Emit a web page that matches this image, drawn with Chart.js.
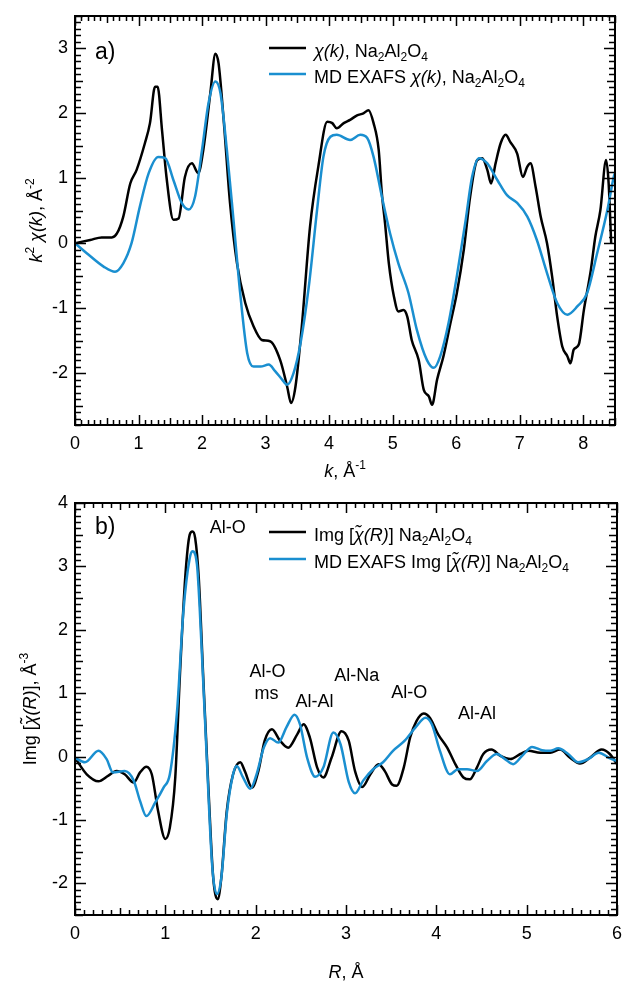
<!DOCTYPE html>
<html lang="en">
<head>
<meta charset="UTF-8">
<title>EXAFS Na2Al2O4</title>
<script src="https://cdn.jsdelivr.net/npm/chart.js"></script>
<style>
  body { margin: 0; background: #fff; }
  canvas { display: block; }
</style>
</head>
<body>
<canvas id="chiChart" width="624" height="492"></canvas>
<canvas id="imgChart" width="624" height="492"></canvas>
<script>
// a) k^2 chi(k), experiment (black) and MD EXAFS (blue)
const kExp = [0, 0.24, 0.42, 0.58, 0.66, 0.76, 0.87, 0.97, 1.10, 1.18, 1.26, 1.30, 1.37, 1.44, 1.55, 1.63, 1.73, 1.84, 1.94, 2.02,
  2.13, 2.21, 2.26, 2.34, 2.44, 2.55, 2.68, 2.81, 2.94, 3.07, 3.23, 3.34, 3.40, 3.47, 3.57, 3.70, 3.83, 3.97, 4.05, 4.12,
  4.23, 4.33, 4.44, 4.54, 4.62, 4.70, 4.78, 4.83, 4.88, 4.94, 5.02, 5.09, 5.17, 5.23, 5.30, 5.41, 5.49, 5.57, 5.62, 5.70,
  5.80, 5.91, 6.01, 6.12, 6.22, 6.33, 6.41, 6.49, 6.55, 6.62, 6.70, 6.78, 6.85, 6.96, 7.05, 7.12, 7.17, 7.25, 7.33, 7.43,
  7.51, 7.59, 7.67, 7.75, 7.80, 7.85, 7.93, 8.01, 8.12, 8.19, 8.27, 8.36, 8.40, 8.44];
const chiExp = [0, 0.05, 0.09, 0.09, 0.15, 0.41, 0.92, 1.13, 1.54, 1.85, 2.41, 2.41, 1.74, 1.02, 0.36, 0.38, 1.02, 1.23, 1.08, 1.44,
  2.31, 2.92, 2.77, 1.90, 0.62, -0.31, -0.92, -1.28, -1.49, -1.51, -1.80, -2.21, -2.46, -2.21, -1.28, 0.26, 1.18, 1.87, 1.85, 1.77,
  1.85, 1.90, 1.97, 2.00, 2.05, 1.85, 1.44, 0.77, 0.31, -0.31, -0.82, -1.05, -1.03, -1.13, -1.49, -1.80, -2.26, -2.36, -2.49, -2.10,
  -1.74, -1.23, -0.77, -0.10, 0.72, 1.28, 1.31, 1.13, 0.92, 1.23, 1.54, 1.67, 1.56, 1.38, 1.02, 1.18, 1.23, 0.87, 0.41, 0.00,
  -0.51, -1.13, -1.59, -1.74, -1.85, -1.64, -1.56, -1.03, -0.41, 0.10, 0.51, 1.28, 0.92, 0.00];
const kMd = [0, 0.18, 0.45, 0.63, 0.76, 0.89, 1.02, 1.16, 1.31, 1.42, 1.55, 1.68, 1.79, 1.89, 2.00, 2.10, 2.21, 2.29, 2.39, 2.49,
  2.60, 2.71, 2.81, 2.92, 3.05, 3.15, 3.26, 3.34, 3.44, 3.55, 3.68, 3.81, 3.91, 4.02, 4.12, 4.33, 4.49, 4.60, 4.70, 4.83,
  4.96, 5.09, 5.25, 5.38, 5.54, 5.65, 5.75, 5.88, 6.01, 6.15, 6.25, 6.36, 6.49, 6.65, 6.80, 6.96, 7.12, 7.27, 7.43, 7.59,
  7.75, 7.91, 8.06, 8.22, 8.38, 8.48, 8.50];
const chiMd = [0, -0.15, -0.36, -0.44, -0.31, 0.00, 0.56, 1.08, 1.33, 1.31, 0.97, 0.62, 0.52, 0.72, 1.44, 2.15, 2.49, 2.31, 1.44, 0.41,
  -0.77, -1.69, -1.90, -1.90, -1.87, -1.97, -2.10, -2.18, -2.00, -1.54, -0.67, 0.51, 1.33, 1.64, 1.67, 1.59, 1.67, 1.62, 1.33, 0.72,
  0.15, -0.31, -0.77, -1.33, -1.80, -1.92, -1.74, -1.23, -0.51, 0.36, 1.02, 1.31, 1.23, 0.97, 0.74, 0.62, 0.41, 0.05, -0.46, -0.92,
  -1.10, -0.97, -0.77, -0.15, 0.51, 1.02, 1.08];
const kTicks = [0, 1, 2, 3, 4, 5, 6, 7, 8];
const chiTicks = [-2, -1, 0, 1, 2, 3];

// b) Img of the Fourier transform
const rExp = [0, 0.13, 0.26, 0.37, 0.46, 0.55, 0.65, 0.72, 0.79, 0.85, 0.92, 1.00, 1.05, 1.11, 1.16, 1.22, 1.27, 1.30, 1.33, 1.37,
  1.42, 1.48, 1.53, 1.58, 1.62, 1.68, 1.75, 1.83, 1.88, 1.96, 2.03, 2.10, 2.18, 2.27, 2.36, 2.46, 2.53, 2.60, 2.68, 2.75,
  2.84, 2.95, 3.03, 3.10, 3.18, 3.27, 3.36, 3.43, 3.51, 3.56, 3.64, 3.71, 3.78, 3.86, 3.93, 4.02, 4.12, 4.21, 4.30, 4.37,
  4.45, 4.52, 4.61, 4.71, 4.82, 4.93, 5.02, 5.15, 5.26, 5.37, 5.48, 5.59, 5.70, 5.83, 5.92, 6.00];
const imgExp = [-0.02, -0.28, -0.39, -0.30, -0.23, -0.28, -0.41, -0.25, -0.16, -0.28, -0.86, -1.30, -1.12, -0.33, 1.24, 2.82, 3.50, 3.55, 3.45, 2.82,
  1.24, -0.59, -1.91, -2.25, -1.91, -0.86, -0.28, -0.09, -0.23, -0.49, -0.23, 0.25, 0.43, 0.25, 0.14, 0.35, 0.51, 0.30, -0.17, -0.33,
  -0.02, 0.40, 0.25, -0.23, -0.48, -0.28, -0.12, -0.23, -0.44, -0.46, -0.17, 0.30, 0.56, 0.68, 0.61, 0.35, 0.14, -0.12, -0.33, -0.36,
  -0.17, 0.04, 0.11, 0.01, -0.04, 0.04, 0.09, 0.06, 0.06, 0.11, -0.02, -0.11, -0.02, 0.11, 0.04, -0.12];
const rMd = [0, 0.11, 0.26, 0.35, 0.42, 0.55, 0.65, 0.72, 0.79, 0.89, 0.98, 1.05, 1.13, 1.20, 1.27, 1.30, 1.35, 1.40, 1.46, 1.52,
  1.57, 1.62, 1.68, 1.75, 1.79, 1.86, 1.94, 2.01, 2.09, 2.16, 2.25, 2.34, 2.43, 2.49, 2.57, 2.66, 2.75, 2.86, 2.94, 3.03,
  3.10, 3.19, 3.30, 3.41, 3.52, 3.65, 3.77, 3.88, 3.95, 4.04, 4.15, 4.24, 4.34, 4.45, 4.56, 4.67, 4.76, 4.85, 4.95, 5.06,
  5.17, 5.26, 5.35, 5.46, 5.57, 5.68, 5.80, 5.91, 6.00];
const imgMd = [-0.02, -0.09, 0.09, -0.04, -0.25, -0.23, -0.38, -0.70, -0.94, -0.72, -0.49, -0.28, 0.72, 2.29, 3.13, 3.24, 3.03, 1.77, -0.07, -1.75,
  -2.17, -1.91, -0.91, -0.28, -0.15, -0.33, -0.51, -0.28, 0.14, 0.29, 0.22, 0.46, 0.66, 0.51, -0.02, -0.32, -0.17, 0.38, 0.19, -0.40,
  -0.58, -0.38, -0.20, -0.09, 0.09, 0.25, 0.46, 0.61, 0.51, 0.09, -0.28, -0.20, -0.20, -0.23, -0.07, 0.04, -0.04, -0.12, 0.01, 0.15,
  0.10, 0.09, 0.13, 0.04, -0.09, -0.04, 0.06, -0.02, -0.07];
const rTicks = [0, 1, 2, 3, 4, 5, 6];
const imgTicks = [-2, -1, 0, 1, 2, 3, 4];
const peakNames = ['Al-O', 'Al-O', 'ms', 'Al-Al', 'Al-Na', 'Al-O', 'Al-Al'];

const FONT = '"Liberation Sans", Arial, sans-serif';
const BLUE = '#1a8fd0';
const NA2AL2O4 = [[' Na', ''], ['2', 'sub'], ['Al', ''], ['2', 'sub'], ['O', ''], ['4', 'sub']];

// text with italic / sup / sub pieces
function drawRich(ctx, parts, x, y, size, align) {
  const fontFor = s => (s === 'i' ? 'italic ' : '') + (s === 'sup' || s === 'sub' ? Math.round(size * 0.65) : size) + 'px ' + FONT;
  let w = 0;
  parts.forEach(([t, s]) => { ctx.font = fontFor(s); w += ctx.measureText(t).width; });
  let cx = align === 'center' ? x - w / 2 : x;
  ctx.textAlign = 'left';
  ctx.textBaseline = 'alphabetic';
  parts.forEach(([t, s]) => {
    ctx.font = fontFor(s);
    const dy = s === 'sup' ? -size * 0.42 : (s === 'sub' ? size * 0.22 : 0);
    ctx.fillText(t, cx, y + dy);
    cx += ctx.measureText(t).width;
  });
}

// frame, inward ticks, legend and texts
function decor(cfg) {
  return {
    id: 'decor',
    afterDraw(chart) {
      const { ctx, chartArea: a, scales: { x, y } } = chart;
      ctx.save();
      ctx.strokeStyle = '#000';
      ctx.lineWidth = 1.5;
      ctx.beginPath();
      for (let i = Math.ceil(x.min * 10 - 1e-6); i <= Math.floor(x.max * 10 + 1e-6); i++) {
        const px = Math.round(x.getPixelForValue(i / 10)) + 0.5;
        const len = i % 10 === 0 ? 10 : (i % 5 === 0 ? 7 : 5);
        ctx.moveTo(px, a.bottom); ctx.lineTo(px, a.bottom - len);
        ctx.moveTo(px, a.top); ctx.lineTo(px, a.top + len);
      }
      for (let i = Math.ceil(y.min * 10 - 1e-6); i <= Math.floor(y.max * 10 + 1e-6); i++) {
        const py = Math.round(y.getPixelForValue(i / 10)) + 0.5;
        const len = i % 10 === 0 ? 11 : (i % 5 === 0 ? 8 : 6);
        ctx.moveTo(a.left, py); ctx.lineTo(a.left + len, py);
        ctx.moveTo(a.right, py); ctx.lineTo(a.right - len, py);
      }
      ctx.stroke();
      ctx.lineWidth = 2;
      ctx.strokeRect(a.left, a.top, a.right - a.left, a.bottom - a.top);

      ctx.fillStyle = '#000';
      // panel label
      ctx.font = '23px ' + FONT;
      ctx.fillText(cfg.panel, 95, cfg.panelY);
      // legend
      ctx.lineWidth = 2.5;
      cfg.legend.forEach(item => {
        ctx.strokeStyle = item.color;
        ctx.beginPath();
        ctx.moveTo(269, item.y); ctx.lineTo(306, item.y);
        ctx.stroke();
        drawRich(ctx, item.text, 314, item.y + 9, 18);
      });
      // axis titles
      drawRich(ctx, cfg.xTitle, (a.left + a.right) / 2, cfg.xTitleY, 18, 'center');
      ctx.translate(cfg.yTitleX, (a.top + a.bottom) / 2);
      ctx.rotate(-Math.PI / 2);
      drawRich(ctx, cfg.yTitle, 0, 0, 18, 'center');
      ctx.setTransform(1, 0, 0, 1, 0, 0);
      // peak names
      ctx.font = '18px ' + FONT;
      ctx.textAlign = 'center';
      (cfg.peaks || []).forEach((p, i) => {
        ctx.fillText(peakNames[i], x.getPixelForValue(p[0]), y.getPixelForValue(p[1]));
      });
      ctx.restore();
    }
  };
}

function lineSet(xs, ys, color, order) {
  return {
    data: xs.map((v, i) => ({ x: v, y: ys[i] })),
    borderColor: color,
    borderWidth: 2.5,
    pointRadius: 0,
    cubicInterpolationMode: 'monotone',
    order: order
  };
}

function options(xMin, xMax, xTicks, yMin, yMax, yTicks, pad, xHeight) {
  const tickFont = { size: 18, family: FONT };
  return {
    responsive: false,
    animation: false,
    devicePixelRatio: 1,
    layout: { padding: pad },
    plugins: { legend: { display: false }, tooltip: { enabled: false } },
    scales: {
      x: {
        type: 'linear', min: xMin, max: xMax,
        afterBuildTicks: s => { s.ticks = xTicks.map(v => ({ value: v })); },
        afterFit: s => { s.height = xHeight; s.paddingLeft = 0; s.paddingRight = 0; },
        grid: { display: false, drawTicks: false },
        border: { display: false },
        ticks: { padding: 8, color: '#000', font: tickFont, maxRotation: 0 }
      },
      y: {
        type: 'linear', min: yMin, max: yMax,
        afterBuildTicks: s => { s.ticks = yTicks.map(v => ({ value: v })); },
        afterFit: s => { s.width = 75; s.paddingTop = 0; s.paddingBottom = 0; },
        grid: { display: false, drawTicks: false },
        border: { display: false },
        ticks: { padding: 7, color: '#000', font: tickFont }
      }
    }
  };
}

new Chart(document.getElementById('chiChart'), {
  type: 'line',
  data: {
    datasets: [
      lineSet(kExp, chiExp, '#000', 1),
      lineSet(kMd, chiMd, BLUE, 0)
    ]
  },
  options: options(0, 8.5, kTicks, -2.8, 3.5, chiTicks, { top: 16, right: 9, bottom: 0, left: 0 }, 67),
  plugins: [decor({
    panel: 'a)', panelY: 59,
    legend: [
      { color: '#000', y: 48, text: [['\u03c7(k)', 'i'], [',', '']].concat(NA2AL2O4) },
      { color: BLUE, y: 74, text: [['MD EXAFS ', ''], ['\u03c7(k)', 'i'], [',', '']].concat(NA2AL2O4) }
    ],
    xTitle: [['k', 'i'], [', \u00c5', ''], ['-1', 'sup']],
    xTitleY: 477,
    yTitle: [['k', 'i'], ['2', 'sup'], [' \u03c7(k)', 'i'], [', \u00c5', ''], ['-2', 'sup']],
    yTitleX: 42
  })]
});

new Chart(document.getElementById('imgChart'), {
  type: 'line',
  data: {
    datasets: [
      lineSet(rExp, imgExp, '#000', 1),
      lineSet(rMd, imgMd, BLUE, 0)
    ]
  },
  options: options(0, 6, rTicks, -2.5, 4, imgTicks, { top: 11, right: 7, bottom: 0, left: 0 }, 69),
  plugins: [decor({
    panel: 'b)', panelY: 42,
    legend: [
      { color: '#000', y: 40, text: [['Img [', ''], ['\u03c7\u0303(R)', 'i'], [']', '']].concat(NA2AL2O4) },
      { color: BLUE, y: 67, text: [['MD EXAFS Img [', ''], ['\u03c7\u0303(R)', 'i'], [']', '']].concat(NA2AL2O4) }
    ],
    xTitle: [['R', 'i'], [', \u00c5', '']],
    xTitleY: 486,
    yTitle: [['Img [', ''], ['\u03c7\u0303(R)', 'i'], ['], \u00c5', ''], ['-3', 'sup']],
    yTitleX: 36,
    peaks: [[1.69, 3.53], [2.13, 1.25], [2.12, 0.90], [2.65, 0.78], [3.12, 1.19], [3.70, 0.93], [4.45, 0.59]]
  })]
});
</script>
</body>
</html>
